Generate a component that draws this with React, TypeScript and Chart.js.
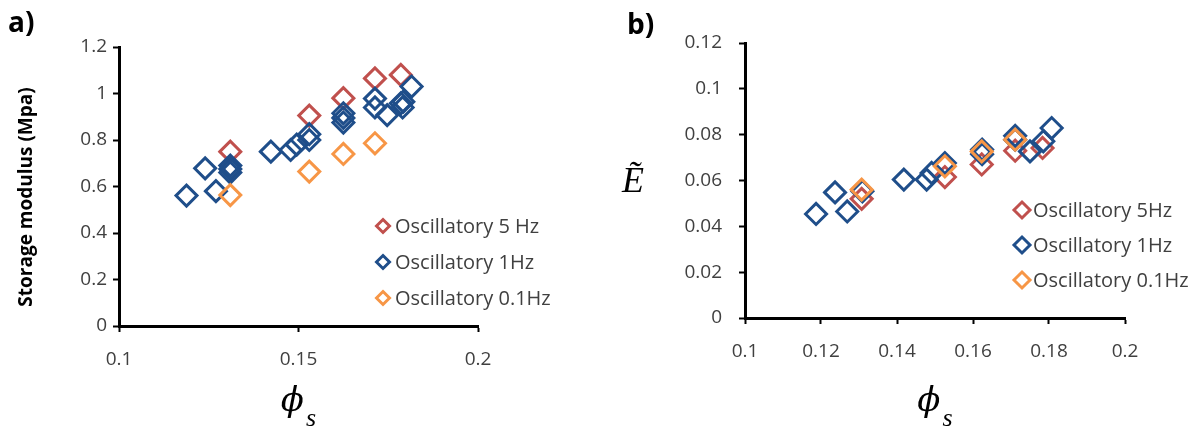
import React, { useEffect, useRef } from "react";
import { Chart, registerables } from "chart.js";

Chart.register(...registerables);

// ---------- colours ----------
const RED = "#C0504D";
const BLUE = "#1F4E8A";
const ORANGE = "#F79646";

// ---------- panel a) ----------
const aXTicks = [0.1, 0.15, 0.2];
const aYTicks = [0, 0.2, 0.4, 0.6, 0.8, 1, 1.2];
const aSeriesLabels = ["Oscillatory 5 Hz", "Oscillatory 1Hz", "Oscillatory 0.1Hz"];

const a5HzX = [0.131, 0.153, 0.1625, 0.1713, 0.1785];
const a5HzY = [0.75, 0.905, 0.98, 1.065, 1.08];

const a1HzX = [0.1188, 0.124, 0.127, 0.131, 0.131, 0.131, 0.1423, 0.1478, 0.1495, 0.153, 0.153, 0.1625, 0.1625, 0.1625, 0.1713, 0.1713, 0.1747, 0.1785, 0.179, 0.1792, 0.1815];
const a1HzY = [0.561, 0.678, 0.58, 0.69, 0.675, 0.66, 0.75, 0.757, 0.78, 0.825, 0.8, 0.915, 0.895, 0.875, 0.978, 0.94, 0.907, 0.958, 0.94, 0.965, 1.03];

const a01HzX = [0.131, 0.153, 0.1625, 0.1713];
const a01HzY = [0.563, 0.664, 0.74, 0.786];

// ---------- panel b) ----------
const bXTicks = [0.1, 0.12, 0.14, 0.16, 0.18, 0.2];
const bYTicks = [0, 0.02, 0.04, 0.06, 0.08, 0.1, 0.12];
const bSeriesLabels = ["Oscillatory 5Hz", "Oscillatory 1Hz", "Oscillatory 0.1Hz"];

const b5HzX = [0.1307, 0.1526, 0.1623, 0.1711, 0.1783];
const b5HzY = [0.052, 0.0615, 0.067, 0.073, 0.0742];

const b1HzX = [0.1187, 0.1237, 0.1269, 0.1309, 0.1418, 0.1478, 0.1491, 0.1526, 0.1624, 0.1624, 0.1711, 0.1711, 0.175, 0.1785, 0.1807];
const b1HzY = [0.0454, 0.0548, 0.0465, 0.0553, 0.0604, 0.0604, 0.0633, 0.0676, 0.0735, 0.0715, 0.0795, 0.0778, 0.0727, 0.0771, 0.0829];

const b01HzX = [0.1307, 0.1526, 0.1623, 0.1711];
const b01HzY = [0.056, 0.0662, 0.0727, 0.0778];

const TICK_FONT = "'Open Sans', sans-serif";

type Series = { label: string; xs: number[]; ys: number[]; color: string };

type PanelSpec = {
  series: Series[];
  xTicks: number[];
  yTicks: number[];
  pad: { top: number; right: number };
  yWidth: number;
  xHeight: number;
  yTickPad: number;
  xTickPad: number;
  pointRadius: number;
  legend: { mx: number; tx: number; rows: number[]; r: number };
  panelLabel: { text: string; x: number; y: number };
  yTitle: (ctx: CanvasRenderingContext2D, area: any) => void;
};

function diamond(ctx: CanvasRenderingContext2D, x: number, y: number, r: number, color: string) {
  ctx.save();
  ctx.beginPath();
  ctx.moveTo(x, y - r);
  ctx.lineTo(x + r, y);
  ctx.lineTo(x, y + r);
  ctx.lineTo(x - r, y);
  ctx.closePath();
  ctx.lineWidth = 3;
  ctx.strokeStyle = color;
  ctx.lineJoin = "miter";
  ctx.stroke();
  ctx.restore();
}

function buildChart(canvas: HTMLCanvasElement, spec: PanelSpec) {
  const textPlugin = {
    id: "panelText",
    afterDraw(chart: any) {
      const ctx: CanvasRenderingContext2D = chart.ctx;
      const area = chart.chartArea;
      ctx.save();
      // panel letter
      ctx.fillStyle = "#000";
      ctx.font = "bold 28px 'Open Sans', sans-serif";
      ctx.textAlign = "left";
      ctx.textBaseline = "alphabetic";
      ctx.fillText(spec.panelLabel.text, spec.panelLabel.x, spec.panelLabel.y);

      // x title: phi_s
      const cx = (area.left + area.right) / 2;
      ctx.font = "italic 34px 'DejaVu Serif', 'Liberation Serif', serif";
      const phiW = ctx.measureText("\u03D5").width;
      ctx.font = "italic 26px 'Liberation Serif', 'DejaVu Serif', serif";
      const sW = ctx.measureText("s").width;
      const total = phiW + 2 + sW;
      const x0 = cx - total / 2;
      ctx.fillStyle = "#000";
      ctx.font = "italic 34px 'DejaVu Serif', 'Liberation Serif', serif";
      ctx.fillText("\u03D5", x0, 411);
      ctx.font = "italic 26px 'Liberation Serif', 'DejaVu Serif', serif";
      ctx.fillText("s", x0 + phiW + 2, 426);

      // y title
      spec.yTitle(ctx, area);

      // legend
      ctx.font = "20px 'Open Sans', sans-serif";
      ctx.textBaseline = "middle";
      ctx.textAlign = "left";
      spec.series.forEach((s, i) => {
        const y = spec.legend.rows[i];
        diamond(ctx, spec.legend.mx, y, spec.legend.r, s.color);
        ctx.fillStyle = "#404040";
        ctx.fillText(s.label, spec.legend.tx, y + 1);
      });
      ctx.restore();
    },
  };

  const axisCommon = (ticks: number[], pad: number) => ({
    type: "linear" as const,
    min: ticks[0],
    max: ticks[ticks.length - 1],
    afterBuildTicks: (scale: any) => {
      scale.ticks = ticks.map((v) => ({ value: v }));
    },
    ticks: {
      autoSkip: false,
      maxRotation: 0,
      padding: pad,
      color: "#404040",
      font: { family: TICK_FONT, size: 19 },
      callback: (v: any) => String(v),
    },
    border: { display: true, color: "#000", width: 3 },
    grid: {
      display: true,
      drawOnChartArea: false,
      drawTicks: true,
      tickLength: 6,
      tickWidth: 2,
      tickColor: "#000",
    },
  });

  return new Chart(canvas, {
    type: "scatter",
    data: {
      datasets: spec.series.map((s, i) => ({
        label: s.label,
        data: s.xs.map((x, k) => ({ x, y: s.ys[k] })),
        pointStyle: "rectRot",
        pointRadius: spec.pointRadius,
        pointHoverRadius: spec.pointRadius,
        borderColor: s.color,
        backgroundColor: "rgba(0,0,0,0)",
        borderWidth: 3,
        pointBorderWidth: 3,
        order: spec.series.length - 1 - i,
        clip: false as any,
      })),
    },
    options: {
      responsive: false,
      animation: false,
      events: [],
      layout: { padding: { top: spec.pad.top, right: spec.pad.right, left: 0, bottom: 0 } },
      plugins: { legend: { display: false }, tooltip: { enabled: false }, title: { display: false } },
      scales: {
        x: {
          ...axisCommon(spec.xTicks, spec.xTickPad),
          position: "bottom",
          afterFit: (scale: any) => {
            scale.height = spec.xHeight;
          },
        },
        y: {
          ...axisCommon(spec.yTicks, spec.yTickPad),
          position: "left",
          afterFit: (scale: any) => {
            scale.width = spec.yWidth;
          },
        },
      },
    } as any,
    plugins: [textPlugin],
  });
}

const panelA: PanelSpec = {
  series: [
    { label: aSeriesLabels[0], xs: a5HzX, ys: a5HzY, color: RED },
    { label: aSeriesLabels[1], xs: a1HzX, ys: a1HzY, color: BLUE },
    { label: aSeriesLabels[2], xs: a01HzX, ys: a01HzY, color: ORANGE },
  ],
  xTicks: aXTicks,
  yTicks: aYTicks,
  pad: { top: 47, right: 122 },
  yWidth: 119,
  xHeight: 102,
  yTickPad: 6,
  xTickPad: 16,
  pointRadius: 10.5,
  legend: { mx: 383, tx: 395, rows: [226, 262, 298], r: 6.5 },
  panelLabel: { text: "a)", x: 8, y: 32 },
  yTitle: (ctx) => {
    ctx.save();
    ctx.translate(27, 197);
    ctx.rotate(-Math.PI / 2);
    ctx.font = "bold 19px 'Open Sans', sans-serif";
    ctx.fillStyle = "#000";
    ctx.textAlign = "center";
    ctx.textBaseline = "middle";
    ctx.fillText("Storage modulus (Mpa)", 0, 0);
    ctx.restore();
  },
};

const panelB: PanelSpec = {
  series: [
    { label: bSeriesLabels[0], xs: b5HzX, ys: b5HzY, color: RED },
    { label: bSeriesLabels[1], xs: b1HzX, ys: b1HzY, color: BLUE },
    { label: bSeriesLabels[2], xs: b01HzX, ys: b01HzY, color: ORANGE },
  ],
  xTicks: bXTicks,
  yTicks: bYTicks,
  pad: { top: 43, right: 75 },
  yWidth: 145,
  xHeight: 110,
  yTickPad: 17,
  xTickPad: 16,
  pointRadius: 10.5,
  legend: { mx: 422, tx: 433, rows: [210, 245, 280], r: 8 },
  panelLabel: { text: "b)", x: 27, y: 34 },
  yTitle: (ctx) => {
    ctx.save();
    ctx.font = "italic 36px 'Liberation Serif', 'DejaVu Serif', serif";
    ctx.fillStyle = "#000";
    ctx.textAlign = "left";
    ctx.textBaseline = "alphabetic";
    ctx.fillText("\u1EBC", 22, 192);
    ctx.restore();
  },
};

function Panel({ spec, left }: { spec: PanelSpec; left: number }) {
  const ref = useRef<HTMLCanvasElement | null>(null);
  useEffect(() => {
    if (!ref.current) return;
    const chart = buildChart(ref.current, spec);
    return () => chart.destroy();
  }, [spec]);
  return (
    <canvas
      ref={ref}
      width={600}
      height={428}
      style={{ position: "absolute", left, top: 0, width: 600, height: 428 }}
    />
  );
}

export default function App() {
  return (
    <div style={{ position: "absolute", left: 0, top: 0, width: 1200, height: 428, background: "#fff", overflow: "hidden" }}>
      <Panel spec={panelA} left={0} />
      <Panel spec={panelB} left={600} />
    </div>
  );
}
